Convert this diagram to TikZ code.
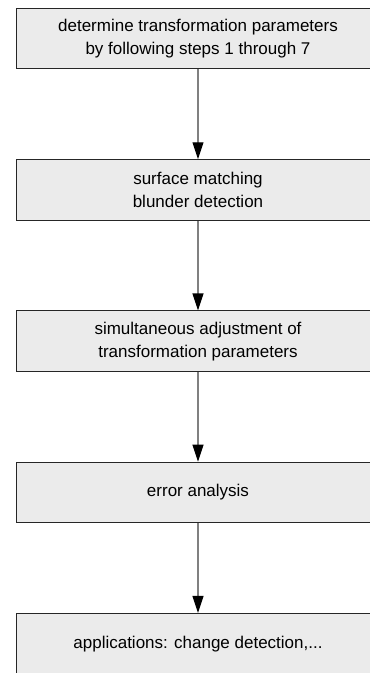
\documentclass[tikz,border=0pt]{standalone}
\usepackage{fontspec}
\setmainfont{Liberation Sans}
\usetikzlibrary{arrows.meta}
\begin{document}
\begin{tikzpicture}[x=1pt,y=-1pt,
  stepbox/.style={draw=black!85, line width=1pt, fill=black!8, rectangle,
    minimum width=364pt, minimum height=60.5pt, inner sep=0pt, align=center,
    font=\fontsize{17}{23}\selectfont},
  flow/.style={draw=black!50, line width=1.1pt, -{Triangle[length=17pt,width=11pt,black]}}]
\useasboundingbox (0,0) rectangle (370,673);
\clip (0,0) rectangle (370,673);
\node[stepbox] (b1) at (198,38.7) {determine transformation parameters\\by following steps 1 through 7};
\node[stepbox] (b2) at (198,190) {surface matching\\blunder detection};
\node[stepbox] (b3) at (198,341.2) {simultaneous adjustment of\\transformation parameters};
\node[stepbox] (b4) at (198,492.4) {error analysis};
\node[stepbox] (b5) at (198,643.6) {applications: change detection,...};
\draw[flow] (b1) -- (b2);
\draw[flow] (b2) -- (b3);
\draw[flow] (b3) -- (b4);
\draw[flow] (b4) -- (b5);
\end{tikzpicture}
\end{document}
